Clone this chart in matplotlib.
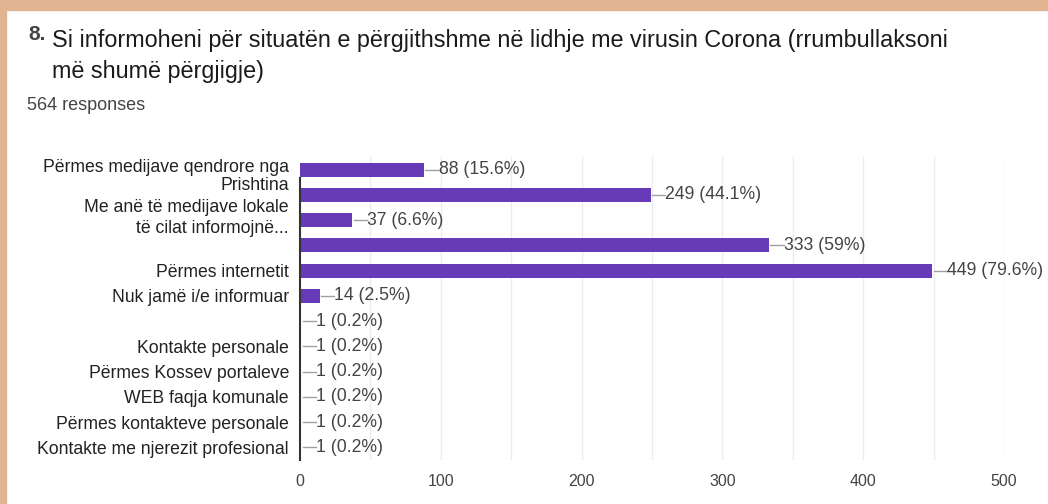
import matplotlib
matplotlib.use("Agg")
import matplotlib.pyplot as plt
from matplotlib.patches import Rectangle
from matplotlib.transforms import ScaledTranslation

# Chart data
labels = [
    "Përmes medijave qendrore nga\nPrishtina",
    "",
    "Me anë të medijave lokale\ntë cilat informojnë...",
    "",
    "Përmes internetit",
    "Nuk jamë i/e informuar",
    "",
    "Kontakte personale",
    "Përmes Kossev portaleve",
    "WEB faqja komunale",
    "Përmes kontakteve personale",
    "Kontakte me njerezit profesional",
]
counts = [88, 249, 37, 333, 449, 14, 1, 1, 1, 1, 1, 1]
percents = ["15.6%", "44.1%", "6.6%", "59%", "79.6%", "2.5%",
            "0.2%", "0.2%", "0.2%", "0.2%", "0.2%", "0.2%"]
x_ticks = [0, 100, 200, 300, 400, 500]

title_1 = "Si informoheni për situatën e përgjithshme në lidhje me virusin Corona (rrumbullaksoni"
title_2 = "më shumë përgjigje)"
responses = "564 responses"

plt.rcParams["font.family"] = ["Liberation Sans", "DejaVu Sans"]

fig = plt.figure(figsize=(10.48, 5.04), dpi=100)
fig.patch.set_facecolor("white")

# blurred orange frame of the screenshot
frame = "#e1b491"
fig.patches.append(Rectangle((0, 1 - 10 / 504), 1, 10 / 504, transform=fig.transFigure,
                             color=frame, zorder=0))
fig.patches.append(Rectangle((0, 0), 6 / 1048, 1, transform=fig.transFigure,
                             color=frame, zorder=0))

ax = fig.add_axes([300 / 1048, 1 - 460 / 504, 704 / 1048, 303 / 504])
ypos = list(range(len(counts)))
ax.barh(ypos, counts, height=0.56, color="#673ab7", zorder=3)

ax.set_xlim(0, 500)
ax.set_ylim(len(counts) - 0.5, -0.5)

# leader line + value label
for y, c, p in zip(ypos, counts, percents):
    ax.plot([c + 1, c + 10.5], [y, y], color="#a0a0a0", lw=1, zorder=3)
    ax.text(c + 10.5, y, f"{c} ({p})", va="center", ha="left",
            fontsize=12.7, color="#444444", zorder=4)

# grid every 50
for gx in range(50, 501, 50):
    ax.axvline(gx, color="#ececec", lw=1, zorder=1)
ax.axhline(len(counts) - 0.5, color="#ececec", lw=1, zorder=1)

for s in ["top", "right", "bottom"]:
    ax.spines[s].set_visible(False)
ax.spines["left"].set_color("#333333")
ax.spines["left"].set_linewidth(1.5)
ax.spines["left"].set_zorder(5)
ax.spines["left"].set_bounds(0.33, len(counts) - 0.5)

ax.set_xticks(x_ticks)
ax.set_xticklabels([str(t) for t in x_ticks], fontsize=11.5, color="#444444")
ax.set_yticks(ypos)
ax.set_yticklabels(labels, fontsize=12.7, color="#222222")
ax.tick_params(axis="both", length=0)
ax.tick_params(axis="x", pad=10)
ax.tick_params(axis="y", pad=8)

# the two wrapped labels sit a bit off their bars in the original
tl = ax.get_yticklabels()
tl[0].set_linespacing(1.08)
tl[0].set_transform(tl[0].get_transform() + ScaledTranslation(0, -4 / 100, fig.dpi_scale_trans))
tl[2].set_linespacing(1.33)
tl[2].set_transform(tl[2].get_transform() + ScaledTranslation(0, 6 / 100, fig.dpi_scale_trans))

# question header
fig.text(28 / 1048, 1 - 34 / 504, "8.", fontsize=15, color="#444444",
         fontweight="bold", va="center", ha="left")
fig.text(52 / 1048, 1 - 41 / 504, title_1, fontsize=16.8, color="#1a1a1a",
         va="center", ha="left")
fig.text(52 / 1048, 1 - 72 / 504, title_2, fontsize=16.8, color="#1a1a1a",
         va="center", ha="left")
fig.text(27 / 1048, 1 - 106 / 504, responses, fontsize=13, color="#444444",
         va="center", ha="left")

fig.savefig("out.png", dpi=100)
